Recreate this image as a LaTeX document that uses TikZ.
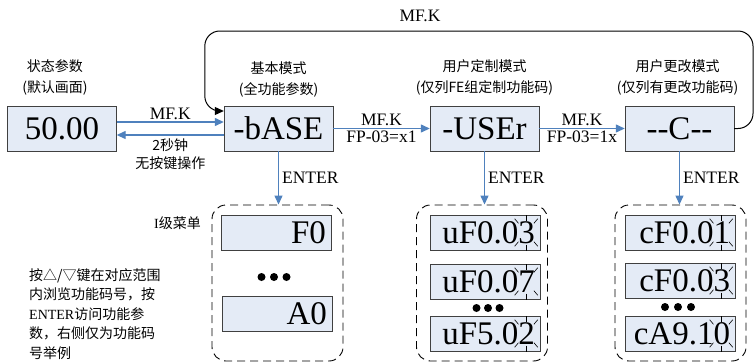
\documentclass[tikz,border=0pt]{standalone}
\usepackage{fontspec}
\setmainfont{Liberation Serif}
\newfontfamily\cjk{Noto Sans CJK SC}
\usetikzlibrary{arrows.meta, positioning, calc}

\definecolor{boxfill}{RGB}{228,235,246}
\definecolor{boxline}{RGB}{64,64,64}
\definecolor{arrowblue}{RGB}{79,129,189}

% blinking marks round the last digit
\newcommand{\blinkmark}[1]{%
  \coordinate (bk) at ([xshift=-14pt]#1.east);
  \foreach \ang in {50,90,130,230,270,310}
    \draw[line width=0.6pt, black] (bk) ++(\ang:12pt) -- ++(\ang:6pt);
}

\begin{document}
\begin{tikzpicture}[
  x=1pt, y=-1pt,
  mode/.style={draw=boxline, fill=boxfill, minimum width=109pt, minimum height=45pt,
               inner sep=0pt, font=\fontsize{33}{33}\selectfont},
  item/.style={draw=boxline, fill=boxfill, minimum width=110pt, minimum height=35pt,
               inner sep=0pt, text width=100pt, align=right, font=\fontsize{33}{33}\selectfont},
  grp/.style={draw, dash pattern=on 8pt off 5pt, rounded corners=14pt,
              line width=0.9pt, minimum width=131pt, minimum height=156pt},
  cnlab/.style={font=\cjk\fontsize{14}{21}\selectfont, align=center, inner sep=0pt},
  lab/.style={font=\fontsize{17.5}{17.5}\selectfont, inner sep=2pt},
  barrow/.style={-{Triangle[length=9pt,width=8pt]}, draw=arrowblue, line width=1.3pt},
  karrow/.style={-{Triangle[length=9pt,width=8pt]}, draw=black, line width=1pt, rounded corners=15pt},
]
\useasboundingbox (0,0) rectangle (756,362);

% mode display boxes
\node[mode] (disp) at (62,128.5) {50.00};
\node[mode] (base) at (278.5,128.5) {-bASE};
\node[mode] (user) at (484.5,128.5) {-USEr};
\node[mode] (chg)  at (679.5,128.5) {-{}-C-{}-};

\node[cnlab, above=10pt of disp, xshift=-7pt] {状态参数\\(默认画面)};
\node[cnlab, above=8pt of base] {基本模式\\(全功能参数)};
\node[cnlab, above=10pt of user] {用户定制模式\\(仅列FE组定制功能码)};
\node[cnlab, above=10pt of chg, xshift=-2pt] {用户更改模式\\(仅列有更改功能码)};

% connectors between modes
\draw[barrow] ([yshift=6.5pt]disp.east) -- ([yshift=6.5pt]base.west)
  node[lab, midway, above] {MF.K};
\draw[barrow] ([yshift=-6.5pt]base.west) -- ([yshift=-6.5pt]disp.east)
  node[cnlab, midway, below=3pt, font=\cjk\fontsize{14}{18}\selectfont] {2秒钟\\无按键操作};
\draw[barrow] (base) -- (user)
  node[lab, midway, above] {MF.K} node[lab, midway, below] {FP-03=x1};
\draw[barrow] (user) -- (chg)
  node[lab, midway, above] {MF.K} node[lab, midway, below] {FP-03=1x};
\draw[karrow] (chg.east) -| (753,31) -| ([xshift=-19pt,yshift=17.5pt]base.west)
  -- ([yshift=17.5pt]base.west);
\node[lab] (loopk) at (420,16) {MF.K};

% menu groups
\node[grp] (grp1) at (277.5,283) {};
\node[grp] (grp2) at (482,283) {};
\node[grp] (grp3) at (680.5,283) {};

\foreach \m/\g in {base/grp1, user/grp2, chg/grp3}
  \draw[barrow] (\m.south) -- (\m.south |- \g.north)
    node[lab, midway, right=1pt] {ENTER};

\node[item] (f0) at (276,232.5) {F0};
\node[item] (a0) at (277,313.5) {A0};
\node[item] (u1) at (485,232.5) {uF0.03};
\node[item] (u2) at (485,281.5) {uF0.07};
\node[item] (u3) at (485,333.5) {uF5.02};
\node[item] (c1) at (680,232.5) {cF0.01};
\node[item] (c2) at (680,280.5) {cF0.03};
\node[item] (c3) at (680,333.5) {cA9.10};

\blinkmark{u1}
\blinkmark{u2}
\blinkmark{u3}
\blinkmark{c1}
\blinkmark{c2}
\blinkmark{c3}

\foreach \i in {-1,0,1} {
  \fill (274+\i*12.5,277) circle (4pt);
  \fill (488+\i*11.5,308) circle (4pt);
  \fill (678+\i*13,307) circle (4pt);
}

\node[cnlab, anchor=east] (menu1) at (201,223) {{\rmfamily I}级菜单};
\node[cnlab, anchor=north west, align=left, font=\cjk\fontsize{14}{19.5}\selectfont]
  (note) at (29,268) {按△/▽键在对应范围\\内浏览功能码号，按\\{\rmfamily ENTER}访问功能参\\数，右侧仅为功能码\\号举例};
\end{tikzpicture}
\end{document}
